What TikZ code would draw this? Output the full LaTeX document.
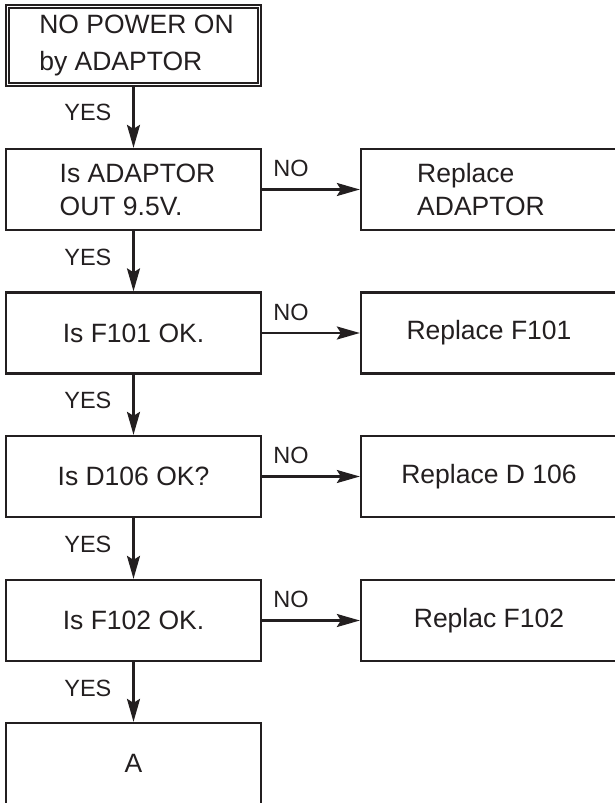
\documentclass[tikz,border=0pt]{standalone}
\usepackage{fontspec}
\setmainfont{Liberation Sans}
\usetikzlibrary{arrows.meta}
\definecolor{ink}{HTML}{231F20}
\begin{document}
\begin{tikzpicture}[x=1pt,y=-1pt,
  flowbox/.style={draw=ink, text=ink, line width=2.3pt, minimum width=255pt, minimum height=81pt,
    inner sep=0pt, font=\fontsize{26.5}{33}\selectfont, align=left},
  rflowbox/.style={flowbox, minimum width=256pt},
  lbl/.style={font=\fontsize{23.5}{28}\selectfont, inner sep=0pt, text=ink},
  arr/.style={draw=ink, line width=2.3pt, -{Stealth[length=23pt,width=13pt,inset=4pt]}},
  yeslbl/.style={lbl, midway, left=21pt, yshift=4pt},
  nolbl/.style={lbl, pos=0, anchor=base west, xshift=10pt, yshift=13pt},
]
\useasboundingbox (0,0) rectangle (615,803);
\clip (0,0) rectangle (615,803);

\node[flowbox, double, double distance=1.6pt, line width=1.3pt, minimum width=252pt, minimum height=78pt]
  (n1) at (133.5,45.5) {\hspace*{6pt}NO POWER ON\\[3.6pt]\hspace*{6pt}by ADAPTOR};
\node[flowbox] (n2) at (133.5,189.5) {\hspace*{8pt}Is ADAPTOR\\\hspace*{8pt}OUT 9.5V.};
\node[rflowbox] (r2) at (489,189.5) {Replace\\ADAPTOR\hspace*{16pt}};
\node[flowbox] (n3) at (133.5,333) {Is F101 OK.};
\node[rflowbox] (r3) at (489,333) {Replace F101};
\node[flowbox] (n4) at (133.5,476.5) {Is D106 OK?};
\node[rflowbox] (r4) at (489,476.5) {Replace D 106};
\node[flowbox] (n5) at (133.5,620.5) {Is F102 OK.};
\node[rflowbox] (r5) at (489,620.5) {Replac F102};
\node[flowbox] (n6) at (133.5,763.5) {A};

\draw[arr] (n1.south) -- node[yeslbl]{YES} (n2.north);
\draw[arr] (n2.south) -- node[yeslbl]{YES} (n3.north);
\draw[arr] (n3.south) -- node[yeslbl]{YES} (n4.north);
\draw[arr] (n4.south) -- node[yeslbl]{YES} (n5.north);
\draw[arr] (n5.south) -- node[yeslbl]{YES} (n6.north);

\draw[arr] (n2.east) -- node[nolbl]{NO} (r2.west);
\draw[arr] (n3.east) -- node[nolbl]{NO} (r3.west);
\draw[arr] (n4.east) -- node[nolbl]{NO} (r4.west);
\draw[arr] (n5.east) -- node[nolbl]{NO} (r5.west);
\end{tikzpicture}
\end{document}
